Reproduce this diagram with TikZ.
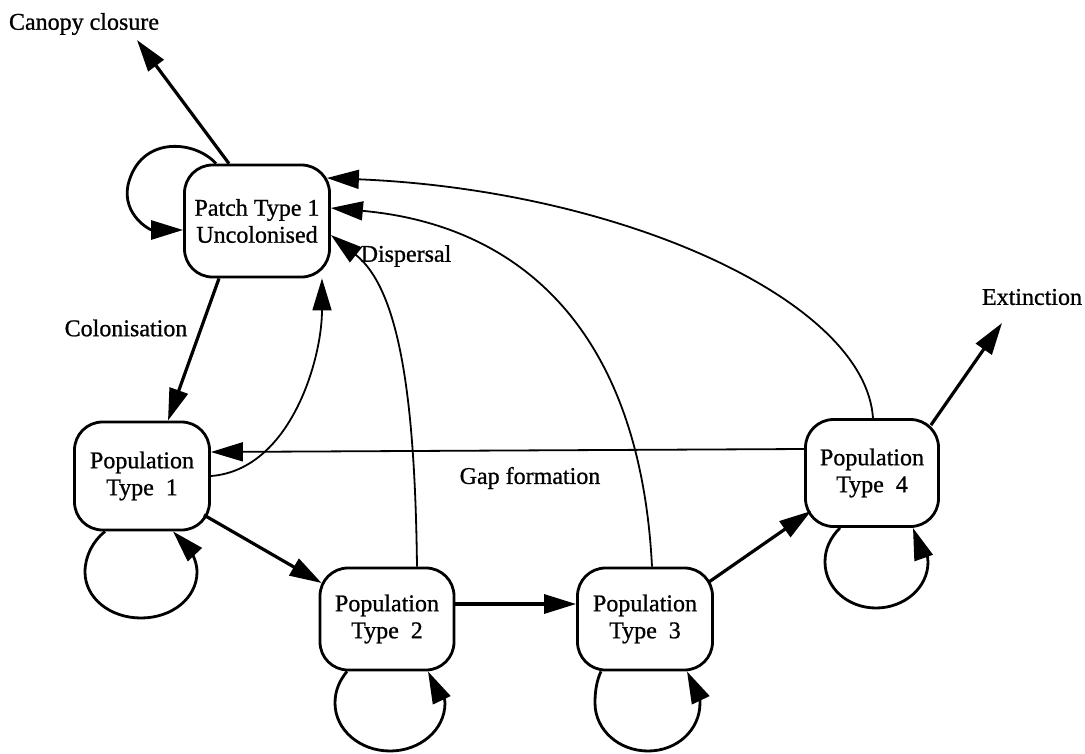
\documentclass[tikz,border=0pt]{standalone}
\usepackage{fontspec}
\setmainfont{Liberation Serif}
\newfontfamily\diafont[FakeBold=0.9]{Liberation Serif}
\usetikzlibrary{arrows.meta}
\begin{document}
\begin{tikzpicture}[x=1pt,y=-1pt,
  state/.style={draw, line width=2.8pt, rounded corners=28pt, align=center, inner sep=0pt, font=\diafont\fontsize{24}{27}\selectfont},
  lbl/.style={font=\diafont\fontsize{24}{27}\selectfont, inner sep=0pt},
  tipst/.style={-{Triangle[length=32pt,width=19pt]}},
  thickarr/.style={tipst, line width=3.2pt},
  thinarr/.style={tipst, line width=1.8pt},
  loopst/.style={tipst, line width=2.8pt}]
\useasboundingbox (0,0) rectangle (1085,753);

% states
\node[state, minimum width=145pt, minimum height=112pt] (patch) at (257,221) {Patch Type 1\\Uncolonised};
\node[state, minimum width=135pt, minimum height=108pt] (p1) at (142,476) {Population\\Type\enspace 1};
\node[state, minimum width=134pt, minimum height=102pt] (p2) at (387,619) {Population\\Type\enspace 2};
\node[state, minimum width=135pt, minimum height=102pt] (p3) at (645,619) {Population\\Type\enspace 3};
\node[state, minimum width=133pt, minimum height=107pt] (p4) at (872,473) {Population\\Type\enspace 4};

% labels
\node[lbl] (canopy) at (84,24) {Canopy closure};
\node[lbl] (colon) at (126,328) {Colonisation};
\node[lbl] (disp) at (406,256) {Dispersal};
\node[lbl] (gap) at (530,478) {Gap formation};
\node[lbl] (ext) at (1032,297) {Extinction};

\coordinate (ce) at (137,40);
\coordinate (ee) at (1002,323);

% thick arrows
\draw[thickarr] ([xshift=-28pt]patch.north) -- (ce);
\draw[thickarr] ([xshift=-38pt]patch.south) -- ([xshift=26pt]p1.north);
\draw[thickarr] ([xshift=-7pt,yshift=-39pt]p1.east) -- ([xshift=3pt,yshift=36pt]p2.west);
\draw[thickarr] ([yshift=15pt]p2.east) -- ([yshift=15pt]p3.west);
\draw[thickarr] ([xshift=-5pt,yshift=37pt]p3.east) -- ([xshift=7pt,yshift=-38pt]p4.west);
\draw[thickarr] ([xshift=-9pt,yshift=-7pt]p4.north east) -- (ee);

% thin arrows
\draw[thinarr] (p1.east) .. controls (290,470) and (322,360) .. ([xshift=65pt]patch.south);
\draw[thinarr] ([yshift=24pt]p4.west) -- ([yshift=24pt]p1.east);
\draw[thinarr] ([xshift=30pt]p2.north) .. controls (415,400) and (400,290) .. ([yshift=-14pt]patch.east);
\draw[thinarr] ([xshift=7pt]p3.north) .. controls (640,330) and (520,225) .. ([yshift=13pt]patch.east);
\draw[thinarr] ([xshift=1pt]p4.north) .. controls (865,300) and (620,190) .. ([xshift=-4pt,yshift=43pt]patch.east);

% self loops
\draw[loopst] ([xshift=-41pt]patch.north) .. controls (195,140) and (140,135) .. (128,185)
   .. controls (122,215) and (150,230) .. ([yshift=-9pt]patch.west);
\draw[loopst] ([xshift=-37pt]p1.south) .. controls (93,541) and (85,556) .. (85,572)
   .. controls (85,598) and (110,618) .. (141,618)
   .. controls (172,618) and (197,598) .. (197,572)
   .. controls (197,555) and (183,542) .. ([xshift=31pt]p1.south);
\draw[loopst] ([xshift=-40pt]p2.south) .. controls (340,680) and (335,690) .. (335,703)
   .. controls (335,730) and (360,751) .. (390,751)
   .. controls (420,751) and (445,730) .. (445,703)
   .. controls (445,692) and (434,684) .. ([xshift=41pt]p2.south);
\draw[loopst] ([xshift=-44pt]p3.south) .. controls (597,680) and (595,690) .. (595,703)
   .. controls (595,730) and (619,751) .. (648,751)
   .. controls (677,751) and (700,730) .. (700,703)
   .. controls (700,690) and (693,684) .. ([xshift=42pt]p3.south);
\draw[loopst] ([xshift=-32pt]p4.south) .. controls (830,538) and (825,549) .. (825,562)
   .. controls (825,588) and (848,608) .. (876,608)
   .. controls (904,608) and (928,588) .. (928,562)
   .. controls (928,548) and (918,542) .. ([xshift=41pt]p4.south);
\end{tikzpicture}
\end{document}
